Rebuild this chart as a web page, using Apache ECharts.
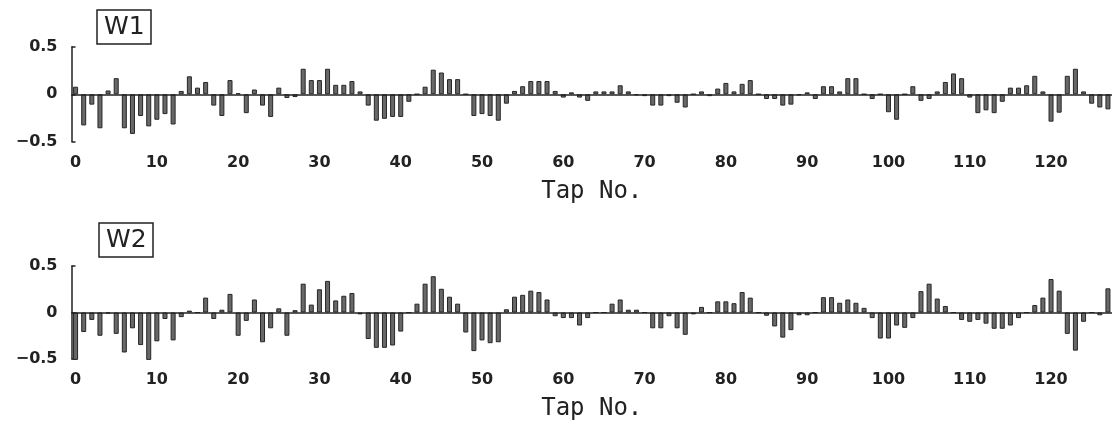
<!DOCTYPE html>
<html>
<head>
<meta charset="utf-8">
<script src="https://cdn.jsdelivr.net/npm/echarts@6/dist/echarts.min.js"></script>
<style>
  html, body { margin: 0; padding: 0; background: #fff; }
  #chart { width: 1113px; height: 429px; }
</style>
</head>
<body>
<div id="chart"></div>
<script>
// Tap indices 0..127
const taps = Array.from({ length: 128 }, (_, i) => String(i));

// Filter weights, first filter
const w1 = [
  0.08, -0.33, -0.11, -0.36, 0.04, 0.17, -0.36, -0.42, -0.23, -0.34,
  -0.27, -0.21, -0.32, 0.035, 0.19, 0.07, 0.13, -0.12, -0.23, 0.15,
  0.01, -0.20, 0.05, -0.12, -0.24, 0.07, -0.04, -0.03, 0.27, 0.15,
  0.15, 0.27, 0.10, 0.10, 0.14, 0.03, -0.12, -0.28, -0.26, -0.24,
  -0.24, -0.08, 0.0, 0.08, 0.26, 0.23, 0.16, 0.16, 0.0, -0.23,
  -0.21, -0.23, -0.28, -0.10, 0.035, 0.085, 0.14, 0.14, 0.14, 0.035,
  -0.035, 0.02, -0.035, -0.07, 0.03, 0.03, 0.03, 0.095, 0.03, -0.01,
  -0.02, -0.12, -0.12, -0.02, -0.09, -0.14, 0.0, 0.03, -0.02, 0.06,
  0.12, 0.03, 0.11, 0.15, 0.0, -0.05, -0.05, -0.12, -0.11, -0.01,
  0.02, -0.05, 0.085, 0.085, 0.03, 0.17, 0.17, 0.0, -0.05, 0.0,
  -0.19, -0.27, 0.0, 0.085, -0.07, -0.05, 0.03, 0.13, 0.22, 0.17,
  -0.035, -0.20, -0.17, -0.20, -0.08, 0.07, 0.07, 0.095, 0.195, 0.03,
  -0.29, -0.195, 0.195, 0.27, 0.03, -0.10, -0.14, -0.16
];

// Filter weights, second filter
const w2 = [
  -0.51, -0.21, -0.08, -0.25, -0.01, -0.23, -0.43, -0.17, -0.35, -0.51,
  -0.31, -0.07, -0.30, -0.05, 0.02, 0.0, 0.16, -0.07, 0.03, 0.20,
  -0.25, -0.09, 0.14, -0.32, -0.17, 0.045, -0.25, 0.025, 0.31, 0.085,
  0.25, 0.34, 0.13, 0.18, 0.21, -0.02, -0.285, -0.38, -0.38, -0.355,
  -0.205, 0.0, 0.095, 0.31, 0.39, 0.255, 0.17, 0.095, -0.215, -0.415,
  -0.30, -0.33, -0.32, 0.035, 0.17, 0.19, 0.235, 0.22, 0.14, -0.04,
  -0.06, -0.06, -0.14, -0.06, 0.0, 0.0, 0.095, 0.14, 0.03, 0.03,
  0.0, -0.17, -0.17, -0.04, -0.17, -0.24, -0.02, 0.06, 0.0, 0.12,
  0.12, 0.10, 0.22, 0.16, 0.0, -0.035, -0.15, -0.27, -0.19, -0.03,
  -0.03, 0.0, 0.165, 0.165, 0.105, 0.14, 0.105, 0.05, -0.06, -0.28,
  -0.28, -0.14, -0.165, -0.06, 0.23, 0.31, 0.15, 0.07, 0.0, -0.08,
  -0.10, -0.08, -0.12, -0.175, -0.175, -0.14, -0.06, 0.0, 0.08, 0.16,
  0.36, 0.235, -0.23, -0.41, -0.10, 0.0, -0.03, 0.26
];

// Y tick labels
const yTickLabels = { '0.5': '0.5', '0': '0', '-0.5': '\u22120.5' };
const panelTitles = ['W1', 'W2'];
const axisTitle = 'Tap No.';

const ink = '#222';
const tickFont = { fontFamily: 'DejaVu Sans', fontWeight: 'bold', fontSize: 16, color: ink };

function xAxisFor(gridIndex) {
  return {
    type: 'category',
    gridIndex,
    data: taps,
    boundaryGap: true,
    axisLine: { show: false, onZero: false },
    axisTick: { show: false },
    axisLabel: Object.assign({ interval: 9, margin: 13 }, tickFont),
    splitLine: { show: false },
    name: axisTitle,
    nameLocation: 'middle',
    nameGap: 38,
    nameTextStyle: { fontFamily: 'DejaVu Sans Mono', fontSize: 24, color: ink }
  };
}

function yAxisFor(gridIndex) {
  return {
    type: 'value',
    gridIndex,
    min: -0.5,
    max: 0.5,
    interval: 0.5,
    axisLine: { show: true, lineStyle: { color: ink, width: 1.5 } },
    axisTick: { show: true, inside: true, length: 4, lineStyle: { color: ink, width: 1.5 } },
    splitLine: { show: false },
    axisLabel: Object.assign({
      margin: 14,
      formatter: v => yTickLabels[String(v)] ?? String(v)
    }, tickFont)
  };
}

function barSeries(idx, values) {
  return {
    type: 'bar',
    xAxisIndex: idx,
    yAxisIndex: idx,
    data: values,
    barWidth: 5,
    clip: false,
    itemStyle: { color: '#686868', borderColor: '#262626', borderWidth: 1 },
    silent: true,
    animation: false,
    markLine: {
      silent: true,
      symbol: 'none',
      label: { show: false },
      lineStyle: { color: ink, width: 1.6, type: 'solid' },
      data: [{ yAxis: 0 }],
      animation: false
    }
  };
}

function titleBox(text, left, top) {
  return {
    text,
    left,
    top,
    padding: [5, 7, 4, 7],
    borderColor: ink,
    borderWidth: 1.5,
    textStyle: { fontFamily: 'DejaVu Sans', fontWeight: 'normal', fontSize: 25, color: ink }
  };
}

const chart = echarts.init(document.getElementById('chart'), null, { renderer: 'canvas' });
chart.setOption({
  backgroundColor: '#fff',
  animation: false,
  title: [titleBox(panelTitles[0], 97, 10), titleBox(panelTitles[1], 99, 223)],
  grid: [
    { left: 71.5, right: 1, top: 47, height: 94.5 },
    { left: 71.5, right: 1, top: 266, height: 93 }
  ],
  xAxis: [xAxisFor(0), xAxisFor(1)],
  yAxis: [yAxisFor(0), yAxisFor(1)],
  series: [barSeries(0, w1), barSeries(1, w2)]
});
</script>
</body>
</html>
